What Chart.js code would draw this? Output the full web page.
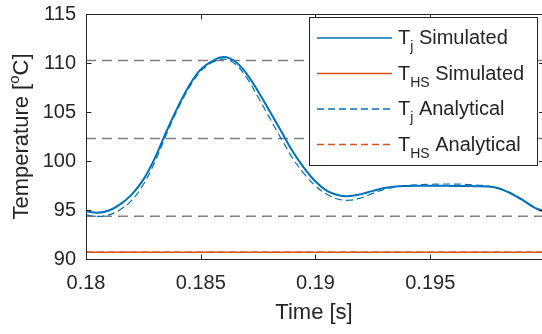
<!DOCTYPE html>
<html>
<head>
<meta charset="utf-8">
<title>Temperature</title>
<script src="https://cdn.jsdelivr.net/npm/chart.js@4.4.1/dist/chart.umd.min.js"></script>
<style>
html, body { margin: 0; padding: 0; background: #fff; overflow: hidden; }
#wrap { width: 542px; height: 334px; }
</style>
</head>
<body>
<div id="wrap"><canvas id="chart" width="542" height="334"></canvas></div>
<script>
// time axis [s]
const times = [0.18, 0.1805, 0.181, 0.1815, 0.182, 0.1825, 0.183, 0.1835, 0.184, 0.1845,
  0.185, 0.1855, 0.186, 0.1865, 0.187, 0.1875, 0.188, 0.1885, 0.189, 0.1895,
  0.19, 0.1905, 0.191, 0.1915, 0.192, 0.1925, 0.193, 0.1935, 0.194, 0.1945,
  0.195, 0.1955, 0.196, 0.1965, 0.197, 0.1975, 0.198, 0.1985, 0.199, 0.1995, 0.1999];

// junction temperature [C]
const tjSimulated = [94.87, 94.72, 94.95, 95.6, 96.6, 98.1, 100.3, 103.0, 105.5, 107.7,
  109.35, 110.2, 110.6, 110.15, 108.9, 107.1, 105.1, 103.05, 101.0, 99.3,
  97.9, 96.95, 96.5, 96.42, 96.62, 96.95, 97.25, 97.4, 97.45, 97.47,
  97.48, 97.48, 97.46, 97.45, 97.43, 97.4, 97.2, 96.7, 96.05, 95.3, 94.87];
const tjAnalytical = [94.5, 94.35, 94.5, 95.05, 96.0, 97.6, 99.9, 102.7, 105.3, 107.5,
  109.15, 110.05, 110.4, 109.9, 108.5, 106.5, 104.4, 102.3, 100.3, 98.7,
  97.45, 96.6, 96.1, 96.0, 96.25, 96.7, 97.1, 97.35, 97.5, 97.58,
  97.62, 97.65, 97.65, 97.62, 97.55, 97.45, 97.2, 96.75, 96.1, 95.35, 94.9];

// heatsink temperature [C]
const hsTimes = [0.18, 0.19, 0.1999];
const thsSimulated = [90.7, 90.7, 90.7];
const thsAnalytical = [90.7, 90.7, 90.7];

// max / mean / min guide lines
const refLevels = [110.25, 102.3, 94.35];

const xTicks = [0.18, 0.185, 0.19, 0.195];
const yTicks = [90, 95, 100, 105, 110, 115];

const seriesSubs = ['j', 'HS', 'j', 'HS'];
const seriesKinds = ['Simulated', 'Simulated', 'Analytical', 'Analytical'];

const FONT = '"Liberation Sans", Arial, Helvetica, sans-serif';
const TEXT = '#262626';
const BLUE = '#0072BD';
const ORANGE = '#D95319';
const DASH = [7, 4];

function pts(xs, ys) {
  return xs.map((x, i) => ({ x: x, y: ys[i] }));
}

const styles = [
  { color: BLUE, dash: [], width: 2 },
  { color: ORANGE, dash: [], width: 1.5 },
  { color: BLUE, dash: DASH, width: 1.2 },
  { color: ORANGE, dash: DASH, width: 1.5 }
];
const seriesData = [
  pts(times, tjSimulated),
  pts(hsTimes, thsSimulated),
  pts(times, tjAnalytical),
  pts(hsTimes, thsAnalytical)
];

const datasets = seriesData.map((d, i) => ({
  label: 'T' + seriesSubs[i] + ' ' + seriesKinds[i],
  data: d,
  borderColor: styles[i].color,
  borderDash: styles[i].dash,
  borderWidth: styles[i].width,
  tension: 0.4,
  pointRadius: 0,
  fill: false
}));

refLevels.forEach(v => {
  datasets.push({
    label: 'ref',
    data: [{ x: 0.18, y: v }, { x: 0.2, y: v }],
    borderColor: '#808080',
    borderDash: [10, 6],
    borderWidth: 1.5,
    pointRadius: 0,
    fill: false
  });
});

const matlabAxes = {
  id: 'matlabAxes',
  afterDraw(chart) {
    const ctx = chart.ctx;
    const a = chart.chartArea;
    const xs = chart.scales.x, ys = chart.scales.y;
    const L = Math.round(a.left) + 0.5, T = Math.round(a.top) + 0.5, B = Math.round(a.bottom) + 0.5;
    const R = a.right + 2;
    ctx.save();
    ctx.strokeStyle = TEXT;
    ctx.lineWidth = 1;
    ctx.beginPath();
    ctx.moveTo(R, T); ctx.lineTo(L, T); ctx.lineTo(L, B); ctx.lineTo(R, B);
    xTicks.forEach(v => {
      const px = Math.round(xs.getPixelForValue(v)) + 0.5;
      ctx.moveTo(px, B); ctx.lineTo(px, B - 5);
      ctx.moveTo(px, T); ctx.lineTo(px, T + 5);
    });
    yTicks.forEach(v => {
      const py = Math.round(ys.getPixelForValue(v)) + 0.5;
      ctx.moveTo(L, py); ctx.lineTo(L + 5, py);
      ctx.moveTo(R, py); ctx.lineTo(R - 5, py);
    });
    ctx.stroke();

    // y axis title with superscript
    ctx.translate(22, (a.top + a.bottom) / 2);
    ctx.rotate(-Math.PI / 2);
    ctx.fillStyle = TEXT;
    ctx.textBaseline = 'middle';
    ctx.textAlign = 'left';
    const big = '22px ' + FONT, small = '15px ' + FONT;
    const parts = [['Temperature [', big, 0], ['o', small, -7], ['C]', big, 0]];
    let total = 0;
    parts.forEach(p => { ctx.font = p[1]; total += ctx.measureText(p[0]).width; });
    let x = -total / 2;
    parts.forEach(p => {
      ctx.font = p[1];
      ctx.fillText(p[0], x, p[2]);
      x += ctx.measureText(p[0]).width;
    });
    ctx.restore();

    // legend box
    ctx.save();
    ctx.fillStyle = '#fff';
    ctx.fillRect(309.5, 17.5, 228, 148);
    ctx.strokeStyle = TEXT;
    ctx.lineWidth = 1;
    ctx.strokeRect(309.5, 17.5, 228, 148);
    for (let i = 0; i < 4; i++) {
      const ds = chart.data.datasets[i];
      const y = 38 + i * 35.5;
      ctx.setLineDash(ds.borderDash);
      ctx.strokeStyle = ds.borderColor;
      ctx.lineWidth = 1.5;
      ctx.beginPath(); ctx.moveTo(317, y); ctx.lineTo(392, y); ctx.stroke();
      ctx.setLineDash([]);
      ctx.fillStyle = TEXT;
      ctx.textAlign = 'left';
      ctx.textBaseline = 'alphabetic';
      let tx = 398;
      ctx.font = '20px ' + FONT;
      ctx.fillText('T', tx, y + 6);
      tx += ctx.measureText('T').width;
      ctx.font = '14px ' + FONT;
      ctx.fillText(seriesSubs[i], tx, y + 13);
      tx += ctx.measureText(seriesSubs[i]).width;
      ctx.font = '20px ' + FONT;
      ctx.fillText(' ' + seriesKinds[i], tx, y + 6);
    }
    ctx.restore();
  }
};

new Chart(document.getElementById('chart'), {
  type: 'line',
  data: { datasets: datasets },
  plugins: [matlabAxes],
  options: {
    responsive: false,
    animation: false,
    devicePixelRatio: 1,
    layout: { padding: { top: 14, right: 0, left: 0, bottom: 0 } },
    plugins: { legend: { display: false }, tooltip: { enabled: false } },
    scales: {
      x: {
        type: 'linear',
        min: 0.18,
        max: 0.19987,
        afterBuildTicks: s => { s.ticks = xTicks.map(v => ({ value: v })); },
        afterFit: s => { s.height = 75; s.paddingLeft = 0; s.paddingRight = 0; },
        grid: { display: false, drawTicks: false },
        border: { display: false },
        ticks: {
          autoSkip: false,
          maxRotation: 0,
          padding: 12,
          color: TEXT,
          font: { family: FONT, size: 20 },
          callback: v => String(+v.toFixed(3))
        },
        title: {
          display: true,
          text: 'Time [s]',
          color: TEXT,
          font: { family: FONT, size: 22 },
          padding: { top: 0, bottom: 8 }
        }
      },
      y: {
        min: 90,
        max: 115,
        afterBuildTicks: s => { s.ticks = yTicks.map(v => ({ value: v })); },
        afterFit: s => { s.width = 86; s.paddingTop = 0; s.paddingBottom = 0; },
        grid: { display: false, drawTicks: false },
        border: { display: false },
        ticks: {
          padding: 10,
          color: TEXT,
          font: { family: FONT, size: 20 }
        }
      }
    }
  }
});
</script>
</body>
</html>
